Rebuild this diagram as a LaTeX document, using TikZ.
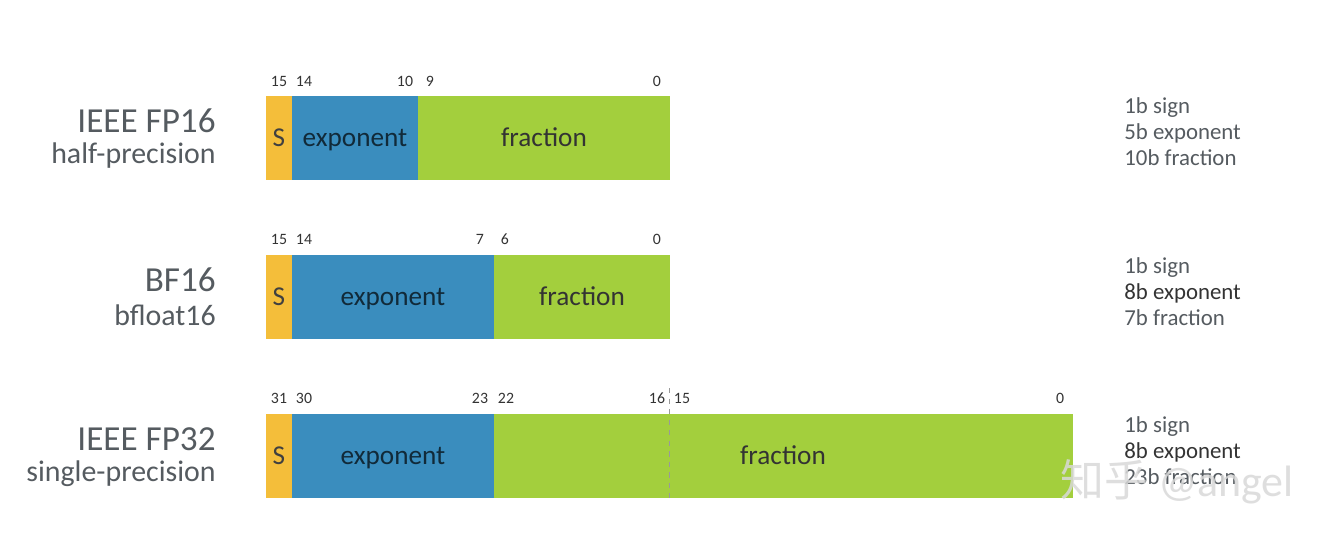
\documentclass[tikz,border=0pt]{standalone}
\usepackage{fontspec}
\setmainfont{Carlito}
\newfontfamily\cjk{Noto Sans CJK SC}
\usetikzlibrary{shapes}
\definecolor{signc}{HTML}{F4BE3A}
\definecolor{expc}{HTML}{3A8DBE}
\definecolor{fracc}{HTML}{A3CF3D}
\definecolor{greyt}{HTML}{555B60}
\tikzstyle{fmt}=[anchor=east,text=greyt,font=\fontsize{20}{22}\selectfont,inner sep=0pt]
\tikzstyle{sub}=[anchor=east,text=greyt,font=\fontsize{17}{19}\selectfont,inner sep=0pt]
\tikzstyle{bit}=[text=black!80,font=\fontsize{9}{10}\selectfont,inner sep=0pt]
\tikzstyle{fld}=[font=\fontsize{15.5}{18}\selectfont,inner sep=0pt,text height=1.6ex,text depth=.4ex]
\tikzstyle{info}=[anchor=west,text=greyt,font=\fontsize{13}{15}\selectfont,inner sep=0pt]

\begin{document}
\begin{tikzpicture}[x=0.02cm,y=-0.02cm]
\useasboundingbox[fill=white] (0,0) rectangle (1326,542);
% IEEE FP16
\node[fmt] (n16) at (216,121) {IEEE FP16};
\node[sub] (p16) at (216,156) {half-precision};
\fill[signc] (266,96) rectangle (292,180);
\fill[expc] (292,96) rectangle (418,180);
\fill[fracc] (418,96) rectangle (670,180);
\node[fld,text=black!75] (s16) at (279,141) {S};
\node[fld,text=expc!30!black] (e16) at (355,141) {exponent};
\node[fld,text=black!80] (f16) at (544,141) {fraction};
\node[bit] at (279,81) {15}; \node[bit] at (304,81) {14}; \node[bit] at (405,81) {10}; \node[bit] at (430,81) {9}; \node[bit] at (657,81) {0};
\node[info] (a16) at (1124,108) {1b sign};
\node[info] (b16) at (1124,133) {5b exponent};
\node[info] (c16) at (1124,158) {10b fraction};
% BF16
\node[fmt] (nbf) at (216,280) {BF16};
\node[sub] (pbf) at (216,315) {bfloat16};
\fill[signc] (266,255) rectangle (292,339);
\fill[expc] (292,255) rectangle (494,339);
\fill[fracc] (494,255) rectangle (670,339);
\node[fld,text=black!75] (sbf) at (279,300) {S};
\node[fld,text=expc!30!black] (ebf) at (393,300) {exponent};
\node[fld,text=black!80] (fbf) at (582,300) {fraction};
\node[bit] at (279,239) {15}; \node[bit] at (304,239) {14}; \node[bit] at (480,239) {7}; \node[bit] at (505,239) {6}; \node[bit] at (657,239) {0};
\node[info] (abf) at (1124,268) {1b sign};
\node[info,text=black!80] (bbf) at (1124,293) {8b exponent};
\node[info] (cbf) at (1124,318) {7b fraction};
% IEEE FP32
\node[fmt] (n32) at (216,439) {IEEE FP32};
\node[sub] (p32) at (216,474) {single-precision};
\fill[signc] (266,414) rectangle (292,498);
\fill[expc] (292,414) rectangle (494,498);
\fill[fracc] (494,414) rectangle (1073,498);
\coordinate (cut top) at (669,388);
\coordinate (cut bot) at (669,498);
\draw[black!40,dashed,thin] (cut top) -- (cut bot);
\node[fld,text=black!75] (s32) at (279,459) {S};
\node[fld,text=expc!30!black] (e32) at (393,459) {exponent};
\node[fld,text=black!80] (f32) at (783,459) {fraction};
\node[bit] at (279,398) {31}; \node[bit] at (304,398) {30}; \node[bit] at (480,398) {23}; \node[bit] at (506,398) {22}; \node[bit] at (657,398) {16}; \node[bit] at (682,398) {15}; \node[bit] at (1060,398) {0};
\node[info] (a32) at (1124,427) {1b sign};
\node[info,text=black!80] (b32) at (1124,452) {8b exponent};
\node[info] (c32) at (1124,477) {23b fraction};
% watermark
\node[anchor=west,inner sep=0pt,text=black!15,opacity=.85,font=\fontsize{25}{28}\selectfont] (wm) at (1060,482) {{\cjk 知乎} @angel};
\end{tikzpicture}
\end{document}
